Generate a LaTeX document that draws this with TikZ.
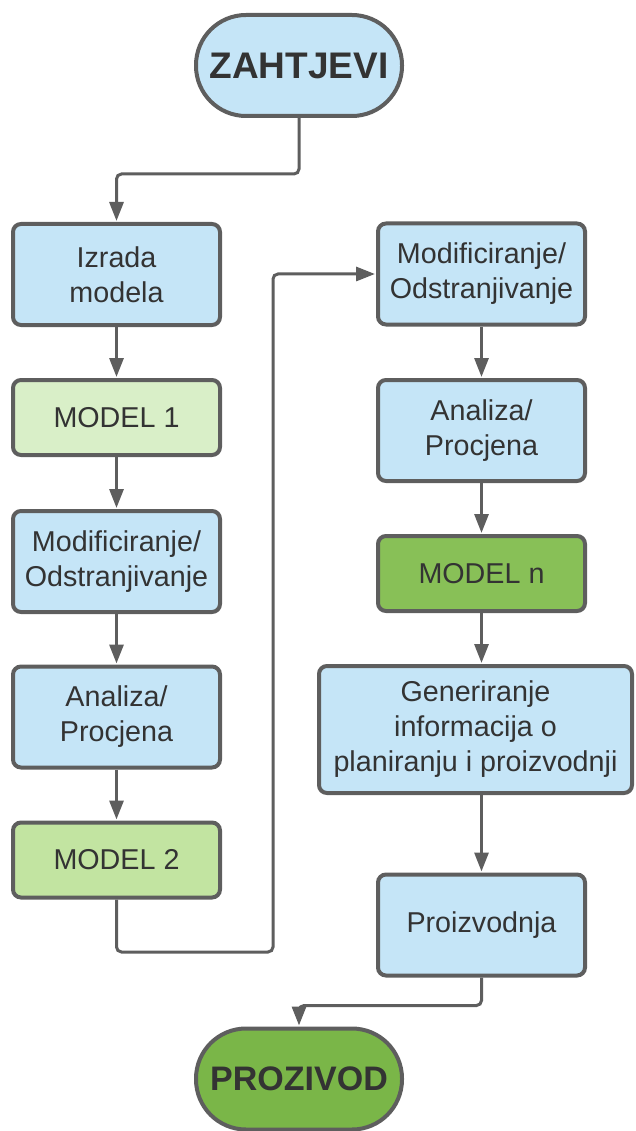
\documentclass[tikz,border=0pt]{standalone}
\usepackage{fontspec}
\setmainfont{Liberation Sans}
\usetikzlibrary{arrows.meta, positioning}
\definecolor{linegray}{HTML}{5E5E5E}
\definecolor{bluefill}{HTML}{C5E5F7}
\definecolor{mintfill}{HTML}{D9EFC8}
\definecolor{leaffill}{HTML}{C2E4A1}
\definecolor{grassfill}{HTML}{88C057}
\definecolor{mossfill}{HTML}{7AB648}
\definecolor{ink}{HTML}{333333}
\tikzset{>={Triangle[length=19pt,width=14pt]}}

\begin{document}
\begin{tikzpicture}[x=1pt, y=-1pt, text=ink,
    font=\fontsize{28.7}{35}\selectfont,
    box/.style={draw=linegray, line width=4pt, rounded corners=8pt, fill=bluefill,
        minimum width=207pt, minimum height=101pt, align=center, inner sep=2pt},
    flat/.style={box, minimum height=75pt},
    pill/.style={box, rounded corners=50pt, minimum width=206pt,
        font=\fontsize{37}{44}\selectfont\bfseries},
    link/.style={->, draw=linegray, line width=3pt, rounded corners=5pt, shorten >=1pt}]
    \useasboundingbox (0,0) rectangle (635,1131);

    \node[pill] (zah) at (299,65.5) {ZAHTJEVI};

    \node[box] (izrada) at (116.5,274.5) {Izrada\\modela};
    \node[flat, fill=mintfill] (m1) at (116.5,417.5) {MODEL 1};
    \node[box] (modL) at (116.5,561.5) {Modificiranje/\\Odstranjivanje};
    \node[box] (anaL) at (116.5,717) {Analiza/\\Procjena};
    \node[flat, fill=leaffill] (m2) at (116.5,860) {MODEL 2};

    \node[box] (modR) at (481.5,274) {Modificiranje/\\Odstranjivanje};
    \node[box] (anaR) at (481.5,430.5) {Analiza/\\Procjena};
    \node[flat, fill=grassfill] (mn) at (481.5,573.5) {MODEL n};
    \node[box, minimum width=313pt, minimum height=127pt] (gen) at (475.5,729.5)
        {Generiranje\\informacija o\\planiranju i proizvodnji};
    \node[box] (pro) at (481.5,925) {Proizvodnja};

    \node[pill, fill=mossfill, font=\fontsize{34}{40}\selectfont\bfseries] (proiz) at (299,1079) {PROZIVOD};

    \coordinate (turn) at (273,952);

    \draw[link] (zah.south) -- ++(0,56) -| (izrada.north);
    \foreach \a/\b in {izrada/m1, m1/modL, modL/anaL, anaL/m2, modR/anaR, anaR/mn}
        \draw[link] (\a.south) -- (\b.north);
    \draw[link] (m2.south) |- (turn) |- (modR.west);
    \draw[link] (mn.south) -- (mn.south |- gen.north);
    \draw[link] (gen.south -| pro.north) -- (pro.north);
    \draw[link] (pro.south) -- ++(0,28) -| (proiz.north);
\end{tikzpicture}
\end{document}
